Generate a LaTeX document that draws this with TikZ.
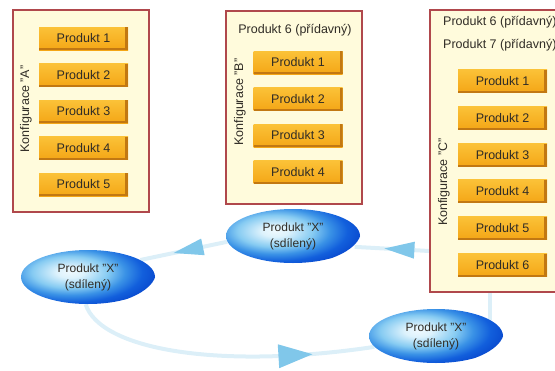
\documentclass[tikz,border=0pt]{standalone}
\usepackage{fontspec}
\setmainfont{Liberation Sans}
\usetikzlibrary{shapes.geometric,decorations.markings}
\definecolor{framefill}{HTML}{FFFBDC}
\definecolor{framedraw}{HTML}{B0484C}
\definecolor{prodtop}{HTML}{FBC238}
\definecolor{prodbot}{HTML}{F4A616}
\definecolor{prodsh}{HTML}{C27812}
\definecolor{txt}{HTML}{302C26}
\definecolor{tailc}{HTML}{DCEFF8}
\definecolor{tric}{HTML}{80C7EA}
\definecolor{blA}{HTML}{EEF9FE}
\definecolor{blB}{HTML}{DDF2FC}
\definecolor{blC}{HTML}{86CBF2}
\definecolor{blD}{HTML}{3A92E6}
\definecolor{blE}{HTML}{125FDC}
\definecolor{blF}{HTML}{0A4CD0}
\pgfdeclareradialshading{blueell}{\pgfpoint{0bp}{0bp}}{color(0bp)=(blA); color(4bp)=(blB); color(11bp)=(blC); color(16bp)=(blD); color(21bp)=(blE); color(25bp)=(blF); color(50bp)=(blF)}
\pgfdeclarelayer{bg}
\pgfsetlayers{bg,main}
\begin{document}
\begin{tikzpicture}[x=1pt,y=-1pt,
  every node/.style={font=\fontsize{12.5}{15}\selectfont, text=txt},
  frame/.style={draw=framedraw, line width=1.5pt, fill=framefill, rectangle, inner sep=0pt},
  prod/.style={rectangle, minimum width=89pt, minimum height=23pt, inner sep=0pt,
    top color=prodtop, bottom color=prodbot,
    path picture={
      \fill[prodsh] ([xshift=-3pt]path picture bounding box.north east) rectangle (path picture bounding box.south east);
      \fill[prodsh] (path picture bounding box.south west) rectangle ([yshift=2pt]path picture bounding box.south east);
    }},
  plain/.style={inner sep=0pt},
  ell/.style={ellipse, minimum width=134pt, minimum height=54pt, inner sep=0pt, align=center,
    font=\fontsize{12}{16}\selectfont,
    path picture={
      \shade[shading=blueell] ([xshift=-18pt,yshift=5pt]path picture bounding box.center) ellipse [x radius=86pt, y radius=36pt];
    }},
  tail/.style={draw=tailc, line width=4pt},
  smalltri/.style={decoration={markings, mark=at position #1 with {\fill[tric] (-15pt,-8.5pt) -- (15pt,0pt) -- (-15pt,8.5pt) -- cycle;}}, postaction={decorate}},
  bigtri/.style={decoration={markings, mark=at position #1 with {\fill[tric] (-17pt,-12pt) -- (17pt,0pt) -- (-17pt,12pt) -- cycle;}}, postaction={decorate}}
]
\clip (0,0) rectangle (555,370);

% frames
\node[frame, minimum width=136pt, minimum height=202pt] (boxA) at (81,111) {};
\node[frame, minimum width=136pt, minimum height=193pt] (boxB) at (294,107.5) {};
\node[frame, minimum width=130pt, minimum height=282pt] (boxC) at (495,151) {};

% labels
\node[plain, rotate=90] (labA) at (26,109) {Konfigurace "A"};
\node[plain, rotate=90] (labB) at (240,102) {Konfigurace "B"};
\node[plain, rotate=90] (labC) at (444,182) {Konfigurace "C"};

\node[plain] (extB) at (295,30) {Produkt 6 (přídavný)};
\node[plain, anchor=west] (extC1) at (443,22) {Produkt 6 (přídavný)};
\node[plain, anchor=west] (extC2) at (443,45) {Produkt 7 (přídavný)};

% products A
\node[prod] (a1) at (83.5,38.5) {Produkt 1};
\node[prod] (a2) at (83.5,75) {Produkt 2};
\node[prod] (a3) at (83.5,111.5) {Produkt 3};
\node[prod] (a4) at (83.5,148) {Produkt 4};
\node[prod] (a5) at (83.5,184.5) {Produkt 5};
% products B
\node[prod] (b1) at (298,62.5) {Produkt 1};
\node[prod] (b2) at (298,99) {Produkt 2};
\node[prod] (b3) at (298,135.5) {Produkt 3};
\node[prod] (b4) at (298,172) {Produkt 4};
% products C
\node[prod] (c1) at (502.5,81) {Produkt 1};
\node[prod] (c2) at (502.5,118) {Produkt 2};
\node[prod] (c3) at (502.5,155) {Produkt 3};
\node[prod] (c4) at (502.5,191) {Produkt 4};
\node[prod] (c5) at (502.5,228) {Produkt 5};
\node[prod] (c6) at (502.5,265) {Produkt 6};

% shared products
\node[ell] (ellC) at (293,236) {Produkt "X"\\(sdílený)};
\node[ell] (ellL) at (88,277) {Produkt "X"\\(sdílený)};
\node[ell] (ellR) at (436,336) {Produkt "X"\\(sdílený)};

% flow
\begin{pgfonlayer}{bg}
\draw[tail, smalltri=0.45] (ellC.185) -- (ellL.18);
\draw[tail, smalltri=0.4] (boxC.west |- 0,251) -- (ellC.-10);
\draw[tail, bigtri=0.74] (ellL.265) .. controls (100,350) and (220,370) .. (ellR.190);
\draw[tail] (ellR.17) -- (ellR.17 |- boxC.south);
\end{pgfonlayer}
\end{tikzpicture}
\end{document}
